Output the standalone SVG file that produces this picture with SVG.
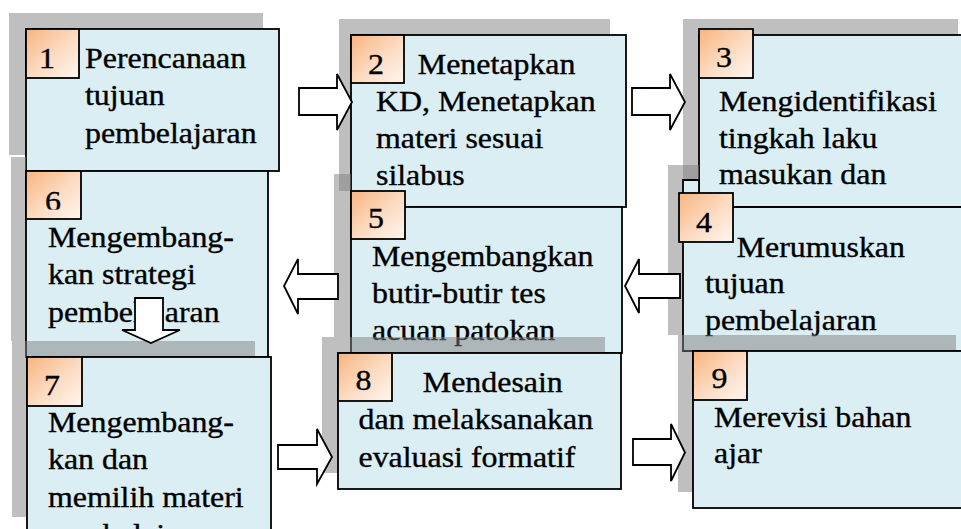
<svg xmlns="http://www.w3.org/2000/svg" width="961" height="529" viewBox="0 0 961 529">
<defs>
<linearGradient id="og" x1="0" y1="0" x2="1" y2="1">
<stop offset="0" stop-color="#f8b47e"/>
<stop offset="0.55" stop-color="#fcdcc4"/>
<stop offset="1" stop-color="#fff6ef"/>
</linearGradient>
<clipPath id="c6"><rect x="20" y="165" width="70" height="44.5"/></clipPath>
<style>
.sh{fill:#7f7f7f;fill-opacity:.5;stroke:none}
.box{fill:#daeef3;stroke:#000;stroke-width:1.8}
.num{fill:url(#og);stroke:#000;stroke-width:1.8}
.t{font-size:29px;fill:#000;stroke:#000;stroke-width:0.35}
.n{font-size:29px;fill:#000;stroke:#000;stroke-width:0.35;text-anchor:middle}
.arr{fill:#fff;stroke:#000;stroke-width:1.8;stroke-linejoin:miter}
</style>
</defs>
<rect width="961" height="529" fill="#fff"/>
<g font-family="'Liberation Serif', Tinos, 'Times New Roman', 'DejaVu Serif', serif">
<g id="node1">
<rect class="sh" x="9" y="13" width="254" height="142"/>
<rect class="box" x="26" y="29" width="253" height="142"/>
<rect class="num" x="26" y="29" width="53" height="49"/>
<text class="n" transform="translate(47,68) scale(1.1,1)">1</text>
<text class="t" transform="translate(85,68) scale(1.1,1)"><tspan x="0" y="0">Perencanaan</tspan><tspan x="0" y="37.5">tujuan</tspan><tspan x="0" y="75">pembelajaran</tspan></text>
</g>

<g id="node6">
<polygon class="sh" points="11,157 26,157 26,171 252,171 252,341 11,341"/>
<rect class="box" x="26" y="171" width="242" height="186"/>
<rect class="num" x="26" y="171" width="55" height="48"/>
<g clip-path="url(#c6)"><text class="n" transform="translate(53,210.5) scale(1.1,1)">6</text></g>
<text class="t" transform="translate(48,247) scale(1.1,1)"><tspan x="0" y="0">Mengembang-</tspan><tspan x="0" y="37.5">kan strategi</tspan><tspan x="0" y="75">pembelajaran</tspan></text>
</g>

<g id="node7">
<rect class="sh" x="12" y="341" width="243" height="176"/>
<rect class="box" x="27" y="357" width="244" height="185"/>
<rect class="num" x="27" y="357" width="55" height="49"/>
<text class="n" transform="translate(52,395) scale(1.1,1)">7</text>
<text class="t" transform="translate(48,432) scale(1.1,1)"><tspan x="0" y="0">Mengembang-</tspan><tspan x="0" y="37.5">kan dan</tspan><tspan x="0" y="75">memilih materi</tspan><tspan x="0" y="112.5">pembelajaran</tspan></text>
</g>

<g id="node2">
<rect class="sh" x="339" y="19" width="271" height="172"/>
<rect class="box" x="351" y="35" width="275" height="172"/>
<rect class="num" x="351" y="35" width="53" height="48"/>
<text class="n" transform="translate(376,73.5) scale(1.1,1)">2</text>
<text class="t" transform="translate(376,73.5) scale(1.1,1)"><tspan x="38" y="0">Menetapkan</tspan><tspan x="0" y="37.3">KD, Menetapkan</tspan><tspan x="0" y="74.6">materi sesuai</tspan><tspan x="0" y="111.5">silabus</tspan></text>
</g>

<g id="node5">
<polygon class="sh" points="334,174 351,174 351,207 606,207 606,337 334,337"/>
<rect class="box" x="351" y="207" width="271" height="146"/>
<rect class="num" x="351" y="191" width="54" height="48"/>
<text class="n" transform="translate(376,228) scale(1.1,1)">5</text>
<text class="t" transform="translate(372,266) scale(1.1,1)"><tspan x="0" y="0">Mengembangkan</tspan><tspan x="0" y="37">butir-butir tes</tspan><tspan x="0" y="74">acuan patokan</tspan></text>
</g>

<g id="node8">
<rect class="sh" x="322" y="337" width="283" height="136"/>
<rect class="box" x="338" y="353" width="283" height="136"/>
<rect class="num" x="338" y="353" width="54" height="48"/>
<text class="n" transform="translate(363.5,390) scale(1.1,1)">8</text>
<text class="t" transform="translate(358.5,392) scale(1.1,1)"><tspan x="58.5" y="0">Mendesain</tspan><tspan x="0" y="37.5">dan melaksanakan</tspan><tspan x="0" y="75">evaluasi formatif</tspan></text>
</g>

<g id="node3">
<rect class="sh" x="683" y="19" width="275" height="172"/>
<rect class="box" x="699" y="35" width="276" height="172"/>
<rect class="num" x="699" y="29" width="54" height="49"/>
<text class="n" transform="translate(724,67) scale(1.1,1)">3</text>
<text class="t" transform="translate(719,111) scale(1.1,1)"><tspan x="0" y="0">Mengidentifikasi</tspan><tspan x="0" y="36.8">tingkah laku</tspan><tspan x="0" y="73.5">masukan dan</tspan></text>
</g>

<g id="node4">
<polygon class="sh" points="668,165 699,165 699,207 945,207 945,335 668,335"/>
<polygon class="box" points="683,180 699,180 699,207 975,207 975,351 683,351"/>
<rect class="num" x="679" y="193" width="54" height="49"/>
<text class="n" transform="translate(704,231.5) scale(1.1,1)">4</text>
<text class="t" transform="translate(705,256.7) scale(1.1,1)"><tspan x="28.8" y="0">Merumuskan</tspan><tspan x="0" y="36.5">tujuan</tspan><tspan x="0" y="73.3">pembelajaran</tspan></text>
</g>

<g id="node9">
<rect class="sh" x="678" y="335" width="278" height="157"/>
<rect class="box" x="693" y="351" width="282" height="157"/>
<rect class="num" x="693" y="351" width="54" height="49"/>
<text class="n" transform="translate(719.5,388.3) scale(1.1,1)">9</text>
<text class="t" transform="translate(714,426.7) scale(1.1,1)"><tspan x="0" y="0">Merevisi bahan</tspan><tspan x="0" y="36.7">ajar</tspan></text>
</g>
</g>
<g id="connectors">
<polygon class="arr" points="299,88 337,88 337,74 352,102 337,130 337,115 299,115"/>
<polygon class="arr" points="632,88 670,88 670,74 685,102 670,130 670,115 632,115"/>
<polygon class="arr" points="680,274 639,274 639,259 625,286 639,313 639,298 680,298"/>
<polygon class="arr" points="338,274 298,274 298,259 284,286 298,314 298,299 338,299"/>
<polygon class="arr" points="135,298 163,298 163,330 180,330 151,343 122,330 135,330"/>
<polygon class="arr" points="278,445 317,445 317,429 332,457 317,484 317,469 278,469"/>
<polygon class="arr" points="633,439 671,439 671,424 685,452.5 671,481 671,465 633,465"/>
</g>
</svg>
